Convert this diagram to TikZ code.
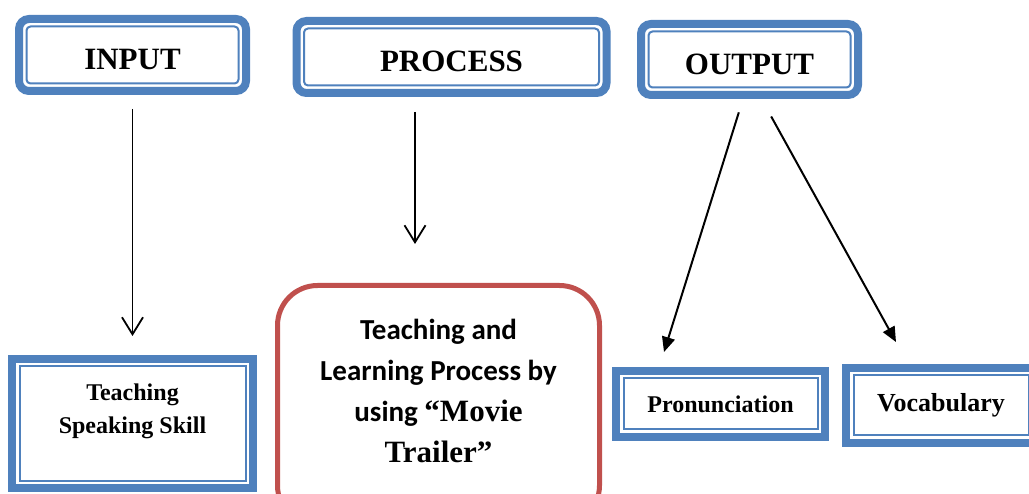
\documentclass[tikz,border=0pt]{standalone}
\usepackage{fontspec}
\setmainfont{Liberation Serif}
\newfontfamily\carlito{Carlito}
\usetikzlibrary{arrows.meta}
\definecolor{boxBlue}{HTML}{4F81BD}
\definecolor{boxRed}{HTML}{C0504D}
\newcommand{\pCal}{\carlito\bfseries\fontsize{29}{41}\selectfont}
\newcommand{\pTnr}{\rmfamily\bfseries\fontsize{31}{41}\selectfont}
\tikzset{
  framebox/.style={draw=boxBlue, line width=8pt, fill=white, align=center,
    path picture={\draw[boxBlue, line width=2pt, rounded corners=#1]
      ([shift={(7.5pt,7.5pt)}]path picture bounding box.south west) rectangle
      ([shift={(-7.5pt,-7.5pt)}]path picture bounding box.north east);}},
  titlebox/.style={framebox=4pt, rounded corners=10pt, text height=30pt, text depth=0pt,
    font=\bfseries\fontsize{31}{37}\selectfont},
  itembox/.style={framebox=0pt, sharp corners},
  redbox/.style={draw=boxRed, line width=5pt, fill=white, rounded corners=40pt, align=center},
  openarrow/.style={-{Straight Barb[length=17pt,width=21pt]}, line width=1.8pt},
  fullarrow/.style={-{Triangle[length=15pt,width=13pt]}, line width=2pt},
}

\begin{document}
\begin{tikzpicture}[x=1pt,y=-1pt]
\useasboundingbox (0,0) rectangle (1029,494);
\node[titlebox, minimum width=227pt, minimum height=72pt] (input) at (132.5,55) {INPUT};
\node[titlebox, minimum width=310pt, minimum height=72pt] (process) at (451.5,57) {PROCESS};
\node[titlebox, minimum width=217pt, minimum height=71pt] (output) at (749.5,59.5) {OUTPUT};
\node[itembox, minimum width=241pt, minimum height=129pt, text depth=29pt,
  font=\bfseries\fontsize{24}{33}\selectfont] (speak) at (132.5,423.5) {Teaching\\Speaking Skill};
\node[redbox, minimum width=322pt, minimum height=240pt, text depth=30pt, font=\pCal] (tlp) at (438.5,405.5)
  {Teaching and\\Learning Process by\\using \pTnr “Movie\\\pTnr Trailer”};
\node[itembox, minimum width=209pt, minimum height=66pt,
  font=\bfseries\fontsize{24}{29}\selectfont] (pron) at (720.5,404) {Pronunciation};
\node[itembox, minimum width=190pt, minimum height=75pt,
  font=\bfseries\fontsize{26}{31}\selectfont] (voc) at (941,405.5) {Vocabulary};
\coordinate (ptip) at (415,244);
\draw[openarrow, shorten <=14pt, shorten >=19pt] (input.south) -- (speak.north);
\draw[openarrow, shorten <=15pt] (process.south -| ptip) -- (ptip);
\draw[fullarrow, shorten <=14pt] ([xshift=-6.5pt]output.south) -- ([xshift=-56.5pt,yshift=15pt]pron.north);
\draw[fullarrow, shorten <=20pt] ([xshift=12pt]output.south) -- ([xshift=-45pt,yshift=22pt]voc.north);
\end{tikzpicture}
\end{document}
